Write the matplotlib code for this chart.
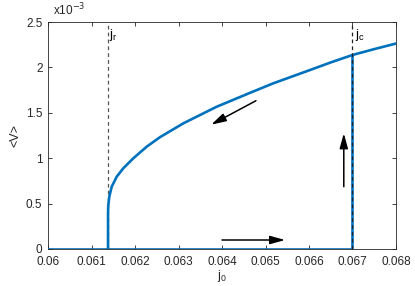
import matplotlib
matplotlib.use("Agg")
import matplotlib.pyplot as plt
from matplotlib.ticker import FuncFormatter

plt.rcParams['font.family'] = ['Liberation Sans', 'DejaVu Sans']

# Upper branch, swept from high j0 down to j_r
j_up = [0.068016, 0.067479, 0.067000, 0.066500, 0.065947, 0.065179, 0.064644,
        0.063878, 0.063111, 0.062575, 0.062269, 0.061961, 0.061731, 0.061579,
        0.061464, 0.061409, 0.061385, 0.061380, 0.061380]
v_up = [2.265e-3, 2.199e-3, 2.137e-3, 2.055e-3, 1.958e-3, 1.825e-3, 1.720e-3,
        1.567e-3, 1.384e-3, 1.232e-3, 1.127e-3, 0.999e-3, 0.889e-3, 0.796e-3,
        0.686e-3, 0.576e-3, 0.480e-3, 0.400e-3, 0.0]
# Lower branch
j_low = [0.060, 0.067, 0.067]
v_low = [0.0, 0.0, 2.137e-3]

j_r = 0.06138
j_c = 0.067
xticks = [0.06, 0.061, 0.062, 0.063, 0.064, 0.065, 0.066, 0.067, 0.068]
yticks = [0, 0.5e-3, 1e-3, 1.5e-3, 2e-3, 2.5e-3]

# arrows: (start_j, start_v, end_j, end_v)
arrows = [
    (0.0640, 0.099e-3, 0.06545, 0.099e-3),
    (0.0668, 0.686e-3, 0.0668, 1.274e-3),
    (0.06478, 1.633e-3, 0.06375, 1.369e-3),
]

fig = plt.figure(figsize=(4.15, 2.86), dpi=100)
ax = fig.add_axes([0.1157, 0.1294, 0.9542 - 0.1157, 0.923 - 0.1294])

blue = '#0072BD'
ax.plot(j_low, v_low, color=blue, lw=1.9, zorder=3, solid_joinstyle='round')
ax.plot(j_up, v_up, color=blue, lw=1.9, zorder=3, solid_joinstyle='round')

ax.axvline(j_r, color='#555555', lw=0.9, ls=(0, (3, 2.5)), zorder=2)
ax.axvline(j_c, color='#222222', lw=0.9, ls=(0, (3, 2.5)), zorder=4)

for sj, sv, ej, ev in arrows:
    ax.annotate('', xy=(ej, ev), xytext=(sj, sv),
                arrowprops=dict(arrowstyle='-|>,head_length=0.9,head_width=0.25',
                                color='black', lw=1.1, shrinkA=0, shrinkB=0))

ax.text(j_r + 0.00003, 2.36e-3, r'j$_\mathregular{r}$', fontsize=9.5, va='center', ha='left')
ax.text(j_c + 0.00005, 2.36e-3, r'j$_\mathregular{c}$', fontsize=9.5, va='center', ha='left')

ax.set_xlim(0.06, 0.068)
ax.set_ylim(0, 2.5e-3)
ax.set_xticks(xticks)
ax.set_yticks(yticks)
ax.xaxis.set_major_formatter(FuncFormatter(lambda v, p: ('%g' % round(v, 4))))
ax.yaxis.set_major_formatter(FuncFormatter(lambda v, p: ('%g' % round(v * 1e3, 3))))
ax.tick_params(direction='in', top=True, right=True, labelsize=8.5, length=3,
               width=0.6, color='#262626', labelcolor='#262626')
ax.tick_params(axis='x', pad=5)
ax.tick_params(axis='y', pad=4)
for s in ax.spines.values():
    s.set_linewidth(0.6)
    s.set_color('#262626')

ax.set_xlabel(r'j$_\mathregular{0}$', fontsize=9, labelpad=0, color='#262626')
ax.set_ylabel('<V>', fontsize=9, labelpad=3, color='#262626')
fig.text(0.128, 0.935, r'x10$^{-3}$', fontsize=8.5, color='#262626', ha='left', va='bottom')

fig.savefig('out.png', dpi=100)
